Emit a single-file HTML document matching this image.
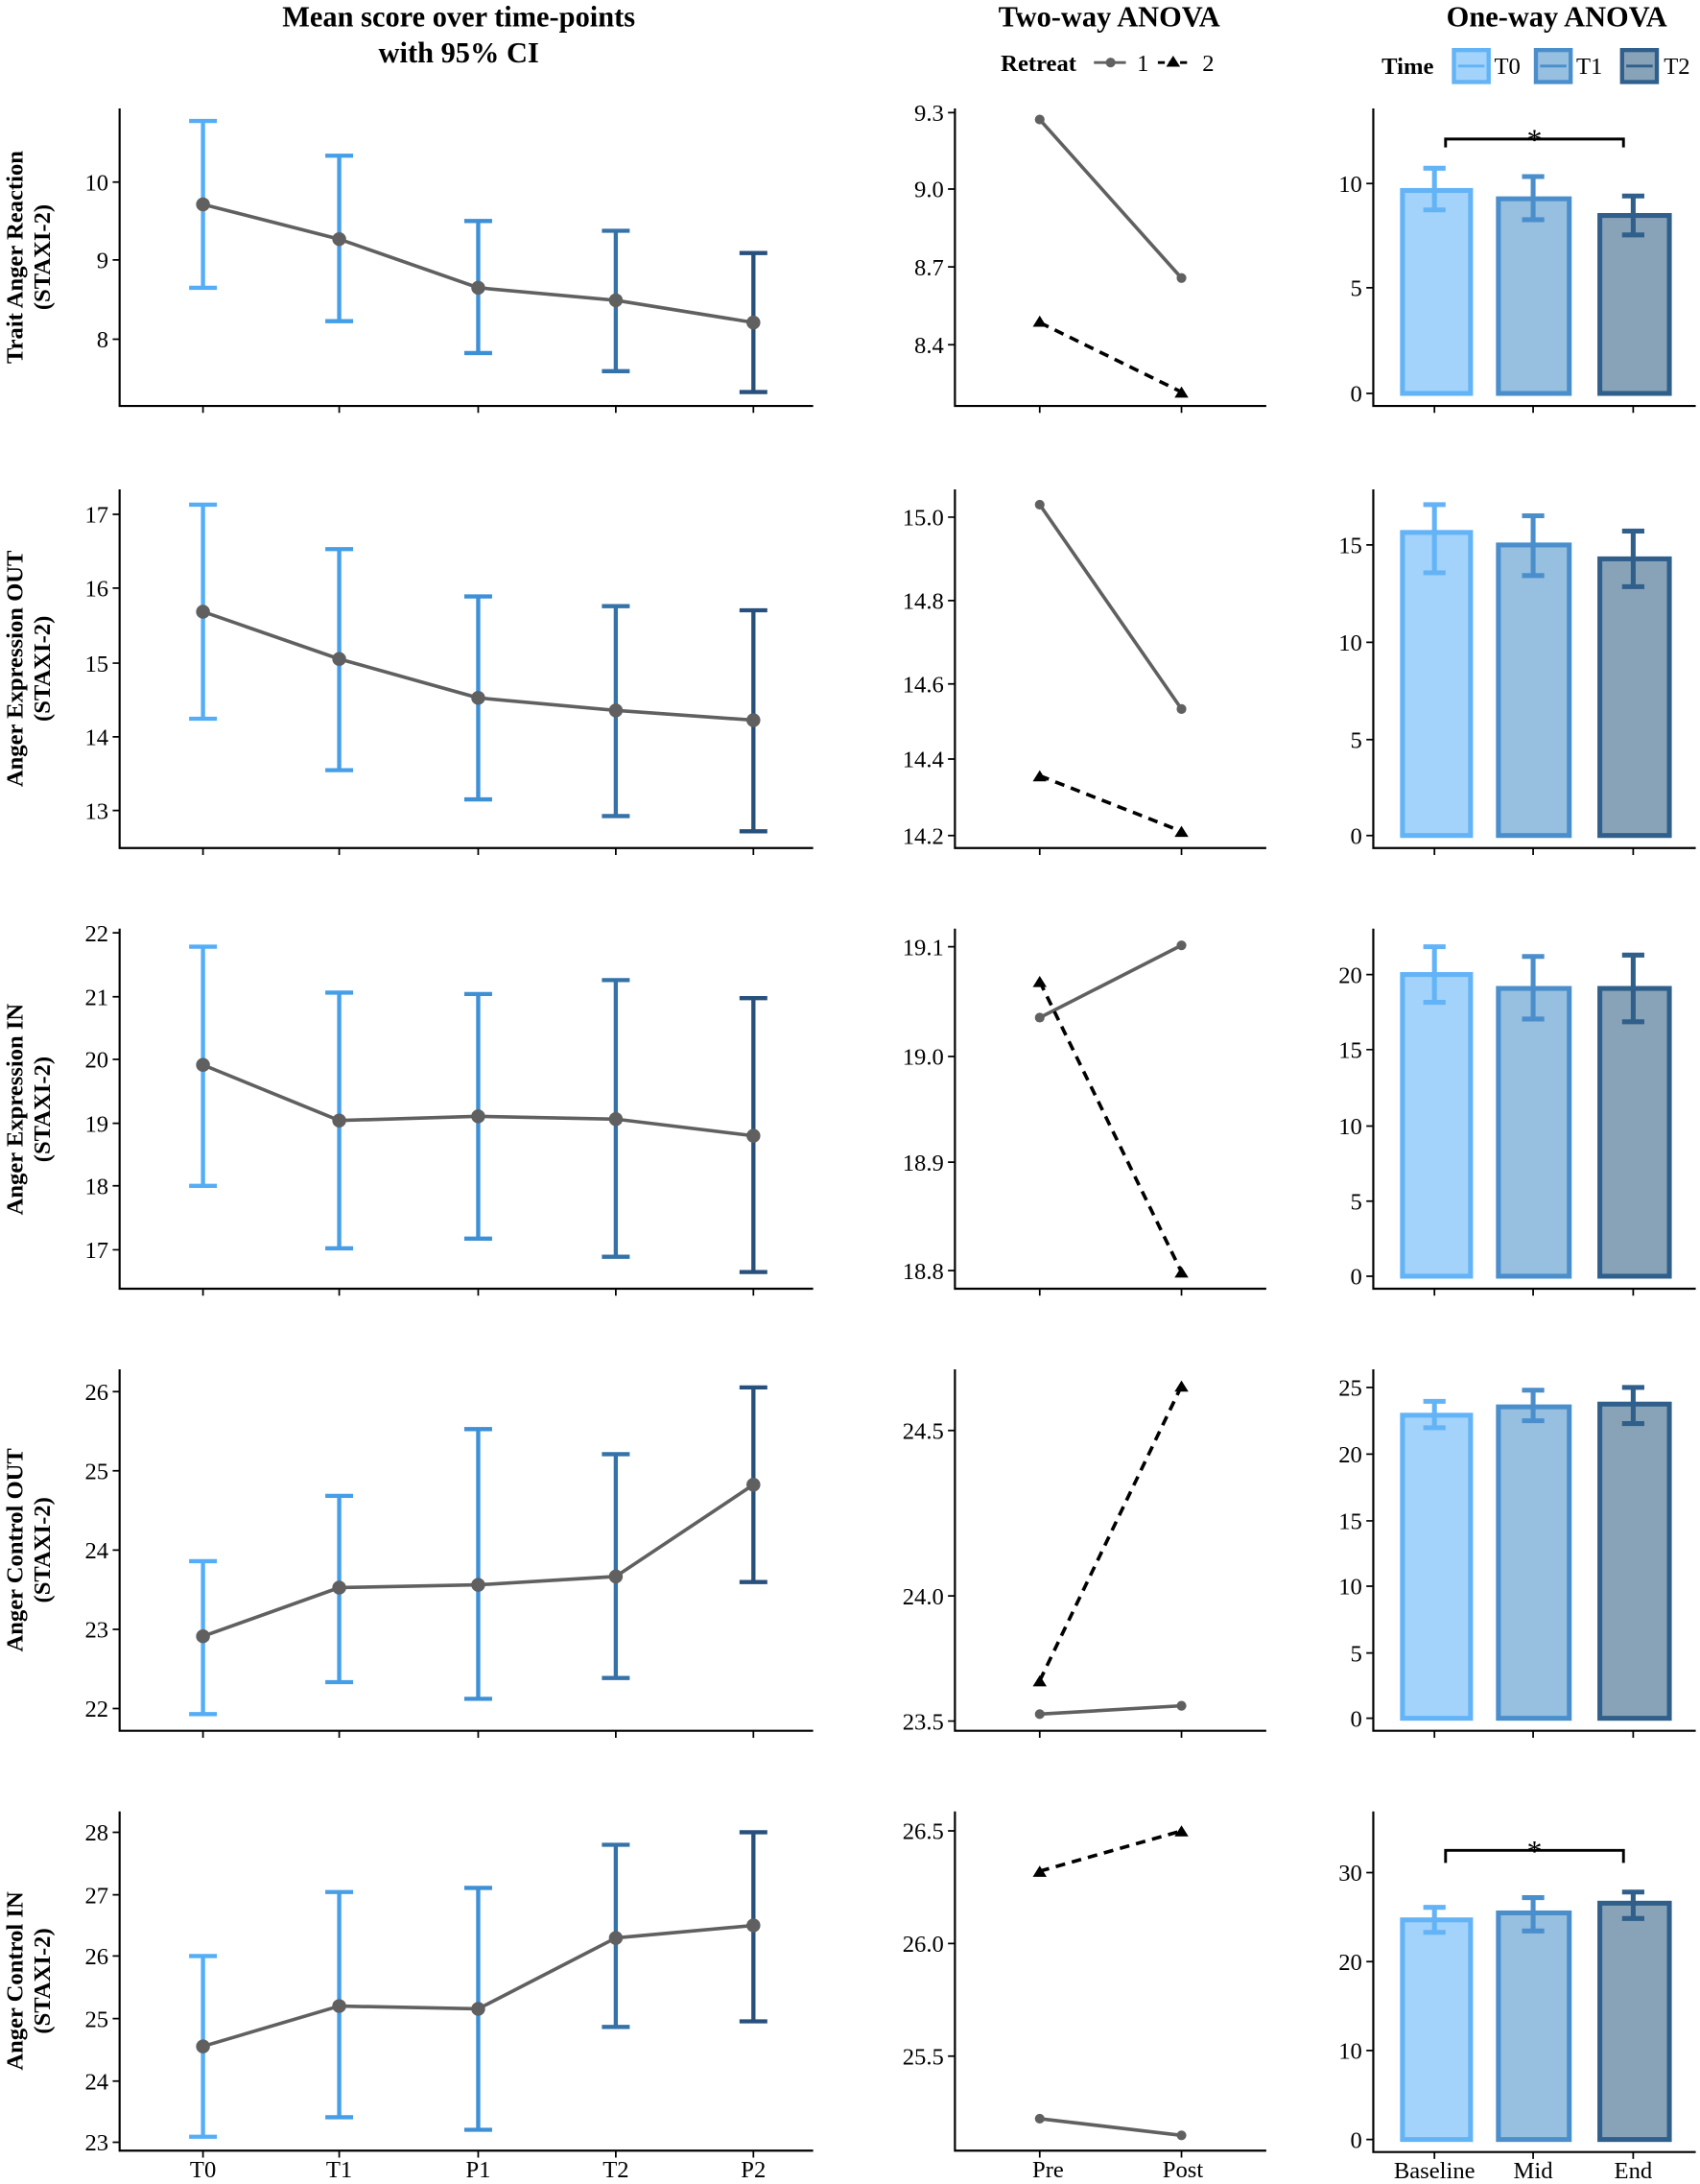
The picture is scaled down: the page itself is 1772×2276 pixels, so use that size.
<!DOCTYPE html>
<html><head><meta charset="utf-8"><style>html,body{margin:0;padding:0;background:#fff}svg{display:block}</style></head>
<body>
<svg width="1772" height="2276" viewBox="0 0 1223 1571" xmlns="http://www.w3.org/2000/svg" font-family="'Liberation Serif', serif">
<rect width="1223" height="1571" fill="#fff"/>
<g font-weight="bold" font-size="21" text-anchor="middle" fill="#000">
<text x="330" y="19">Mean score over time-points</text>
<text x="330" y="45">with 95% CI</text>
<text x="798" y="19">Two-way ANOVA</text>
<text x="1120" y="19">One-way ANOVA</text>
</g>
<g font-size="17">
<text x="720" y="51" font-weight="bold">Retreat</text>
<line x1="787" y1="45" x2="810" y2="45" stroke="#606060" stroke-width="2"/><circle cx="799" cy="45" r="3.5" fill="#606060"/>
<text x="818" y="51">1</text>
<line x1="833" y1="45" x2="856" y2="45" stroke="#000" stroke-width="2" stroke-dasharray="5,3"/><polygon points="844,40 849,48 839,48" fill="#000"/>
<text x="865" y="51">2</text>
<text x="994" y="53" font-weight="bold">Time</text>
<rect x="1046" y="36" width="25" height="23" fill="#a3d3fb" stroke="#63b3f7" stroke-width="3"/><line x1="1049" y1="47.5" x2="1068" y2="47.5" stroke="#63b3f7" stroke-width="2"/>
<text x="1075" y="53">T0</text>
<rect x="1105" y="36" width="25" height="23" fill="#97bfe0" stroke="#4a8fcc" stroke-width="3"/><line x1="1108" y1="47.5" x2="1127" y2="47.5" stroke="#4a8fcc" stroke-width="2"/>
<text x="1134" y="53">T1</text>
<rect x="1167" y="36" width="25" height="23" fill="#88a3b8" stroke="#2f5f8a" stroke-width="3"/><line x1="1170" y1="47.5" x2="1189" y2="47.5" stroke="#2f5f8a" stroke-width="2"/>
<text x="1197" y="53">T2</text>
</g>

<g font-weight="bold" font-size="17" text-anchor="middle">
<text transform="translate(16,185) rotate(-90)">Trait Anger Reaction</text>
<text transform="translate(36,185) rotate(-90)">(STAXI-2)</text>
<text transform="translate(16,481) rotate(-90)">Anger Expression OUT</text>
<text transform="translate(36,481) rotate(-90)">(STAXI-2)</text>
<text transform="translate(16,798) rotate(-90)">Anger Expression IN</text>
<text transform="translate(36,798) rotate(-90)">(STAXI-2)</text>
<text transform="translate(16,1115) rotate(-90)">Anger Control OUT</text>
<text transform="translate(36,1115) rotate(-90)">(STAXI-2)</text>
<text transform="translate(16,1425) rotate(-90)">Anger Control IN</text>
<text transform="translate(36,1425) rotate(-90)">(STAXI-2)</text>
</g>

<!-- LEFT -->
<g stroke="#000" stroke-width="1.5" fill="none">
<path d="M86,78 V292 H585"/><path d="M86,352 V610 H585"/><path d="M86,668 V927 H585"/><path d="M86,985 V1245 H585"/><path d="M86,1303 V1547 H585"/>
</g>
<g stroke="#000" stroke-width="1.2">
<path d="M146,292v5M244,292v5M344,292v5M443,292v5M542,292v5"/>
<path d="M146,610v5M244,610v5M344,610v5M443,610v5M542,610v5"/>
<path d="M146,927v5M244,927v5M344,927v5M443,927v5M542,927v5"/>
<path d="M146,1245v5M244,1245v5M344,1245v5M443,1245v5M542,1245v5"/>
<path d="M146,1547v5M244,1547v5M344,1547v5M443,1547v5M542,1547v5"/>
<path d="M81,131h5M81,187h5M81,244h5"/>
<path d="M81,370h5M81,423h5M81,477h5M81,530h5M81,583h5"/>
<path d="M81,671h5M81,717h5M81,762h5M81,808h5M81,853h5M81,899h5"/>
<path d="M81,1001h5M81,1058h5M81,1115h5M81,1172h5M81,1229h5"/>
<path d="M81,1318h5M81,1363h5M81,1407h5M81,1452h5M81,1497h5M81,1541h5"/>
</g>
<g font-size="17" text-anchor="end" fill="#000">
<text x="78" y="137">10</text><text x="78" y="193">9</text><text x="78" y="250">8</text>
<text x="78" y="376">17</text><text x="78" y="429">16</text><text x="78" y="483">15</text><text x="78" y="536">14</text><text x="78" y="589">13</text>
<text x="78" y="677">22</text><text x="78" y="723">21</text><text x="78" y="768">20</text><text x="78" y="814">19</text><text x="78" y="859">18</text><text x="78" y="905">17</text>
<text x="78" y="1007">26</text><text x="78" y="1064">25</text><text x="78" y="1121">24</text><text x="78" y="1178">23</text><text x="78" y="1235">22</text>
<text x="78" y="1324">28</text><text x="78" y="1369">27</text><text x="78" y="1413">26</text><text x="78" y="1458">25</text><text x="78" y="1503">24</text><text x="78" y="1547">23</text>
</g>
<g stroke-width="3" fill="none">
<g stroke="#55aef5"><path d="M146,87V207M136,87h20M136,207h20"/><path d="M146,363V517M136,363h20M136,517h20"/><path d="M146,681V853M136,681h20M136,853h20"/><path d="M146,1123V1233M136,1123h20M136,1233h20"/><path d="M146,1407V1537M136,1407h20M136,1537h20"/></g>
<g stroke="#459ee8"><path d="M244,112V231M234,112h20M234,231h20"/><path d="M244,395V554M234,395h20M234,554h20"/><path d="M244,714V898M234,714h20M234,898h20"/><path d="M244,1076V1210M234,1076h20M234,1210h20"/><path d="M244,1361V1523M234,1361h20M234,1523h20"/></g>
<g stroke="#3d8fd6"><path d="M344,159V254M334,159h20M334,254h20"/><path d="M344,429V575M334,429h20M334,575h20"/><path d="M344,715V891M334,715h20M334,891h20"/><path d="M344,1028V1222M334,1028h20M334,1222h20"/><path d="M344,1358V1532M334,1358h20M334,1532h20"/></g>
<g stroke="#3572a8"><path d="M443,166V267M433,166h20M433,267h20"/><path d="M443,436V587M433,436h20M433,587h20"/><path d="M443,705V904M433,705h20M433,904h20"/><path d="M443,1046V1207M433,1046h20M433,1207h20"/><path d="M443,1327V1458M433,1327h20M433,1458h20"/></g>
<g stroke="#27507c"><path d="M542,182V282M532,182h20M532,282h20"/><path d="M542,439V598M532,439h20M532,598h20"/><path d="M542,718V915M532,718h20M532,915h20"/><path d="M542,998V1138M532,998h20M532,1138h20"/><path d="M542,1318V1454M532,1318h20M532,1454h20"/></g>
</g>
<g stroke="#606060" stroke-width="2.5" fill="none">
<polyline points="146,147 244,172 344,207 443,216 542,232"/>
<polyline points="146,440 244,474 344,502 443,511 542,518"/>
<polyline points="146,766 244,806 344,803 443,805 542,817"/>
<polyline points="146,1177 244,1142 344,1140 443,1134 542,1068"/>
<polyline points="146,1472 244,1443 344,1445 443,1394 542,1385"/>
</g>
<g fill="#606060">
<circle cx="146" cy="147" r="5"/><circle cx="244" cy="172" r="5"/><circle cx="344" cy="207" r="5"/><circle cx="443" cy="216" r="5"/><circle cx="542" cy="232" r="5"/>
<circle cx="146" cy="440" r="5"/><circle cx="244" cy="474" r="5"/><circle cx="344" cy="502" r="5"/><circle cx="443" cy="511" r="5"/><circle cx="542" cy="518" r="5"/>
<circle cx="146" cy="766" r="5"/><circle cx="244" cy="806" r="5"/><circle cx="344" cy="803" r="5"/><circle cx="443" cy="805" r="5"/><circle cx="542" cy="817" r="5"/>
<circle cx="146" cy="1177" r="5"/><circle cx="244" cy="1142" r="5"/><circle cx="344" cy="1140" r="5"/><circle cx="443" cy="1134" r="5"/><circle cx="542" cy="1068" r="5"/>
<circle cx="146" cy="1472" r="5"/><circle cx="244" cy="1443" r="5"/><circle cx="344" cy="1445" r="5"/><circle cx="443" cy="1394" r="5"/><circle cx="542" cy="1385" r="5"/>
</g>

<!-- MIDDLE -->
<g stroke="#000" stroke-width="1.5" fill="none">
<path d="M687,78 V292 H911"/><path d="M687,352 V610 H911"/><path d="M687,668 V927 H911"/><path d="M687,985 V1245 H911"/><path d="M687,1303 V1547 H911"/>
</g>
<g stroke="#000" stroke-width="1.2">
<path d="M748,292v5M850,292v5M748,610v5M850,610v5M748,927v5M850,927v5M748,1245v5M850,1245v5M748,1547v5M850,1547v5"/>
<path d="M682,81h5M682,136h5M682,192h5M682,248h5"/>
<path d="M682,372h5M682,432h5M682,492h5M682,546h5M682,601h5"/>
<path d="M682,681h5M682,760h5M682,836h5M682,914h5"/>
<path d="M682,1029h5M682,1148h5M682,1238h5"/>
<path d="M682,1317h5M682,1398h5M682,1479h5"/>
</g>
<g font-size="17" text-anchor="end">
<text x="679" y="87">9.3</text><text x="679" y="142">9.0</text><text x="679" y="198">8.7</text><text x="679" y="254">8.4</text>
<text x="679" y="378">15.0</text><text x="679" y="438">14.8</text><text x="679" y="498">14.6</text><text x="679" y="552">14.4</text><text x="679" y="607">14.2</text>
<text x="679" y="687">19.1</text><text x="679" y="766">19.0</text><text x="679" y="842">18.9</text><text x="679" y="920">18.8</text>
<text x="679" y="1035">24.5</text><text x="679" y="1154">24.0</text><text x="679" y="1244">23.5</text>
<text x="679" y="1323">26.5</text><text x="679" y="1404">26.0</text><text x="679" y="1485">25.5</text>
</g>
<g stroke="#606060" stroke-width="2.5">
<line x1="748" y1="86" x2="850" y2="200"/><line x1="748" y1="363" x2="850" y2="510"/><line x1="748" y1="732" x2="850" y2="680"/><line x1="748" y1="1233" x2="850" y2="1227"/><line x1="748" y1="1524" x2="850" y2="1536"/>
</g>
<g fill="#606060">
<circle cx="748" cy="86" r="3.5"/><circle cx="850" cy="200" r="3.5"/><circle cx="748" cy="363" r="3.5"/><circle cx="850" cy="510" r="3.5"/><circle cx="748" cy="732" r="3.5"/><circle cx="850" cy="680" r="3.5"/><circle cx="748" cy="1233" r="3.5"/><circle cx="850" cy="1227" r="3.5"/><circle cx="748" cy="1524" r="3.5"/><circle cx="850" cy="1536" r="3.5"/>
</g>
<g stroke="#000" stroke-width="2.5" stroke-dasharray="7,5">
<line x1="748" y1="232" x2="850" y2="282"/><line x1="748" y1="558" x2="850" y2="598"/><line x1="748" y1="706" x2="850" y2="915"/><line x1="748" y1="1209" x2="850" y2="997"/><line x1="748" y1="1346" x2="850" y2="1317"/>
</g>
<g fill="#000">
<polygon points="748,227 753,235 743,235"/><polygon points="850,278 855,286 845,286"/>
<polygon points="748,554 753,562 743,562"/><polygon points="850,594 855,602 845,602"/>
<polygon points="748,702 753,710 743,710"/><polygon points="850,911 855,919 845,919"/>
<polygon points="748,1205 753,1213 743,1213"/><polygon points="850,993 855,1001 845,1001"/>
<polygon points="748,1342 753,1350 743,1350"/><polygon points="850,1313 855,1321 845,1321"/>
</g>

<!-- RIGHT -->
<g stroke="#000" stroke-width="1.5" fill="none">
<path d="M988,78 V292 H1220"/><path d="M988,352 V610 H1220"/><path d="M988,668 V927 H1220"/><path d="M988,985 V1245 H1220"/><path d="M988,1303 V1548 H1220"/>
</g>
<g stroke="#000" stroke-width="1.2">
<path d="M1032,292v5M1103,292v5M1175,292v5M1032,610v5M1103,610v5M1175,610v5M1032,927v5M1103,927v5M1175,927v5M1032,1245v5M1103,1245v5M1175,1245v5M1032,1548v5M1103,1548v5M1175,1548v5"/>
<path d="M983,132h5M983,207h5M983,283h5"/>
<path d="M983,392h5M983,462h5M983,532h5M983,601h5"/>
<path d="M983,701h5M983,755h5M983,810h5M983,864h5M983,918h5"/>
<path d="M983,998h5M983,1046h5M983,1094h5M983,1141h5M983,1189h5M983,1236h5"/>
<path d="M983,1347h5M983,1411h5M983,1475h5M983,1539h5"/>
</g>
<g font-size="17" text-anchor="end">
<text x="980" y="138">10</text><text x="980" y="213">5</text><text x="980" y="289">0</text>
<text x="980" y="398">15</text><text x="980" y="468">10</text><text x="980" y="538">5</text><text x="980" y="607">0</text>
<text x="980" y="707">20</text><text x="980" y="761">15</text><text x="980" y="816">10</text><text x="980" y="870">5</text><text x="980" y="924">0</text>
<text x="980" y="1004">25</text><text x="980" y="1052">20</text><text x="980" y="1100">15</text><text x="980" y="1147">10</text><text x="980" y="1195">5</text><text x="980" y="1242">0</text>
<text x="980" y="1353">30</text><text x="980" y="1417">20</text><text x="980" y="1481">10</text><text x="980" y="1545">0</text>
</g>
<g stroke-width="3.5">
<g fill="#a3d3fb" stroke="#63b3f7">
<rect x="1009" y="137" width="49" height="146"/><rect x="1009" y="383" width="49" height="218"/><rect x="1009" y="701" width="49" height="217"/><rect x="1009" y="1018" width="49" height="218"/><rect x="1009" y="1381" width="49" height="158"/>
</g>
<g fill="#97bfe0" stroke="#4a8fcc">
<rect x="1078" y="143" width="51" height="140"/><rect x="1078" y="392" width="51" height="209"/><rect x="1078" y="711" width="51" height="207"/><rect x="1078" y="1012" width="51" height="224"/><rect x="1078" y="1376" width="51" height="163"/>
</g>
<g fill="#88a3b8" stroke="#2f5f8a">
<rect x="1151" y="155" width="50" height="128"/><rect x="1151" y="402" width="50" height="199"/><rect x="1151" y="711" width="50" height="207"/><rect x="1151" y="1010" width="50" height="226"/><rect x="1151" y="1369" width="50" height="170"/>
</g>
</g>
<g stroke-width="3.5" fill="none">
<g stroke="#63b3f7"><path d="M1032,121V151M1024,121h16M1024,151h16"/><path d="M1032,363V412M1024,363h16M1024,412h16"/><path d="M1032,681V721M1024,681h16M1024,721h16"/><path d="M1032,1008V1027M1024,1008h16M1024,1027h16"/><path d="M1032,1372V1390M1024,1372h16M1024,1390h16"/></g>
<g stroke="#4a8fcc"><path d="M1103,127V158M1095,127h16M1095,158h16"/><path d="M1103,371V414M1095,371h16M1095,414h16"/><path d="M1103,688V733M1095,688h16M1095,733h16"/><path d="M1103,1000V1022M1095,1000h16M1095,1022h16"/><path d="M1103,1365V1389M1095,1365h16M1095,1389h16"/></g>
<g stroke="#2f5f8a"><path d="M1175,141V169M1167,141h16M1167,169h16"/><path d="M1175,382V422M1167,382h16M1167,422h16"/><path d="M1175,687V735M1167,687h16M1167,735h16"/><path d="M1175,998V1024M1167,998h16M1167,1024h16"/><path d="M1175,1361V1380M1167,1361h16M1167,1380h16"/></g>
</g>
<g stroke="#000" stroke-width="2" fill="none">
<path d="M1040,106V100H1168V106"/><path d="M1040,1340V1331H1168V1340"/>
</g>
<g font-size="22" text-anchor="middle">
<text x="1104" y="108">*</text><text x="1104" y="1339">*</text>
</g>

<g font-size="17" text-anchor="middle" fill="#000">
<text x="146" y="1566">T0</text><text x="244" y="1566">T1</text><text x="344" y="1566">P1</text><text x="443" y="1566">T2</text><text x="542" y="1566">P2</text>
<text x="754" y="1566">Pre</text><text x="851" y="1566">Post</text>
<text x="1032" y="1567">Baseline</text><text x="1103" y="1567">Mid</text><text x="1175" y="1567">End</text>
</g>
</svg>
</body></html>
